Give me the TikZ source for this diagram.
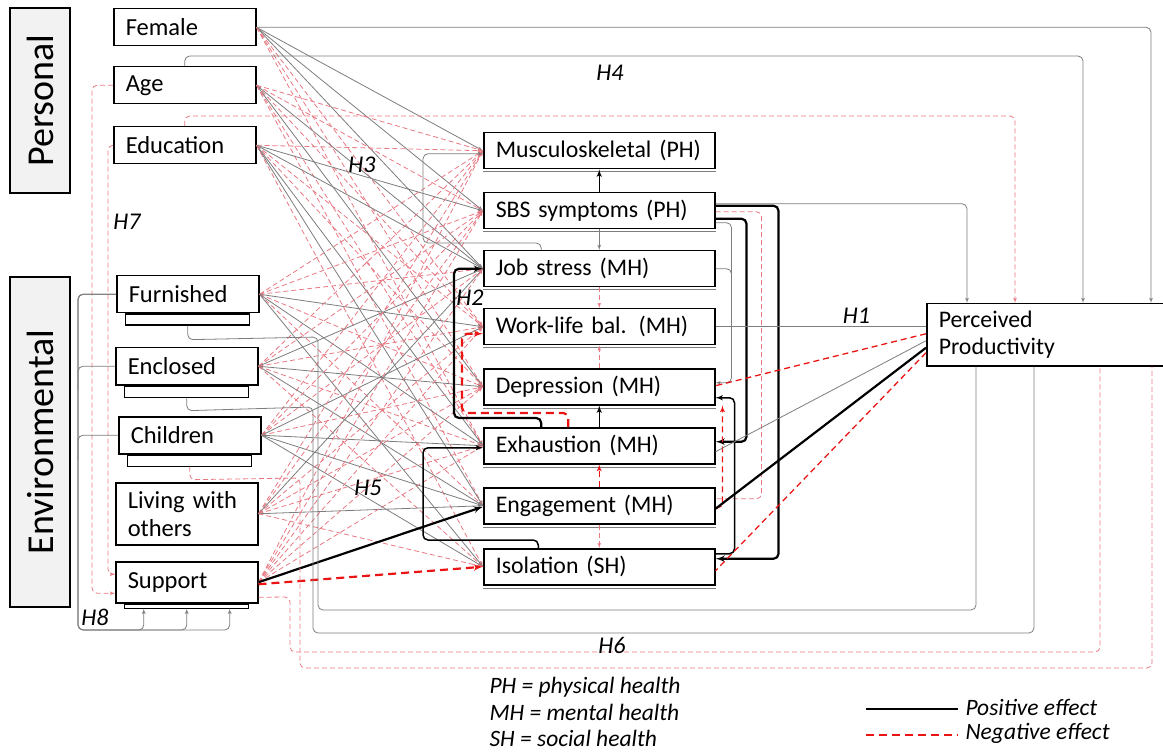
\documentclass[tikz,border=0pt]{standalone}
\usepackage{fontspec}
\setmainfont{Carlito}
\usepackage{tikz}
\usetikzlibrary{arrows, positioning, calc}
\definecolor{lngray}{RGB}{125,125,125}
\definecolor{lnpink}{RGB}{232,120,130}
\definecolor{lnred}{RGB}{235,20,20}
\definecolor{boxgray}{RGB}{242,242,242}

\begin{document}
\begin{tikzpicture}[
    x=1pt, y=-1pt,
    every node/.style={font=\fontsize{24.5}{28}\selectfont},
    grpbox/.style={rectangle, draw, line width=1.6pt, fill=boxgray, minimum height=60pt, rotate=90, font=\fontsize{38}{40}\selectfont},
    varbox/.style={rectangle, draw, line width=1.5pt, fill=white, anchor=north west, minimum height=37pt, text width=118pt, inner xsep=12pt, align=left},
    healthbox/.style={varbox, text width=207pt, inner xsep=12pt, minimum height=36pt, font=\fontsize{23.8}{27}\selectfont},
    stack/.style={rectangle, draw, line width=1.2pt, minimum width=124pt, minimum height=11pt, inner sep=0pt},
    grayln/.style={lngray, line width=0.8pt, rounded corners=5pt, -latex'},
    pinkln/.style={lnpink, line width=0.8pt, dash pattern=on 5pt off 3pt, rounded corners=5pt, -latex'},
    posln/.style={black, line width=2.2pt, rounded corners=5pt, -latex'},
    blkln/.style={black, line width=1.5pt, rounded corners=5pt, -latex'},
    negln/.style={lnred, line width=2.2pt, dash pattern=on 8pt off 5pt, rounded corners=5pt, -latex'},
    redln/.style={lnred, line width=1.3pt, dash pattern=on 6pt off 4pt, rounded corners=5pt},
    hyp/.style={text=black, font=\fontsize{24}{26}\selectfont\itshape},
    legtxt/.style={font=\fontsize{23.5}{25}\selectfont\itshape}
]
    \useasboundingbox (0,0) rectangle (1163,754);

    % group labels
    \node [grpbox, minimum width=185pt] (Personal) at (40,100.5) {Personal};
    \node [grpbox, minimum width=330pt] (Environmental) at (40,442) {Environmental};

    % personal and environmental factors
    \node [varbox] (Female) at (113,8) {Female};
    \node [varbox] (Age) at (113,66) {Age};
    \node [varbox] (Education) at (113,126) {Education};
    \node [varbox] (Furnished) at (116,275) {Furnished};
    \node [varbox] (Enclosed) at (115,347) {Enclosed};
    \node [varbox] (Children) at (118,416) {Children};
    \node [varbox, minimum height=62pt] (Living) at (115,482) {Living with\\others};
    \node [varbox, minimum height=41pt] (Support) at (115,561) {Support};
    \node [stack, below=0pt of Furnished] (FurnishedS) {};
    \node [stack, below=0pt of Enclosed] (EnclosedS) {};
    \node [stack, below=0pt of Children] (ChildrenS) {};
    \node [stack, minimum height=4pt, below=0pt of Support] (SupportS) {};

    % health outcomes
    \node [healthbox] (Musc) at (483,132) {Musculoskeletal (PH)};
    \node [healthbox] (SBS) at (483,192) {SBS symptoms (PH)};
    \node [healthbox] (JobStress) at (483,250) {Job stress (MH)};
    \node [healthbox] (WorkLife) at (483,308) {Work-life bal. (MH)};
    \node [healthbox] (Depression) at (483,368) {Depression (MH)};
    \node [healthbox] (Exhaustion) at (483,427) {Exhaustion (MH)};
    \node [healthbox] (Engagement) at (483,487) {Engagement (MH)};
    \node [healthbox] (Isolation) at (483,548) {Isolation (SH)};
    \foreach \n in {Musc,SBS,JobStress,WorkLife,Depression,Exhaustion,Engagement,Isolation}
        \draw [lngray, line width=1pt] ([yshift=-2.5]\n.south west) -- ([yshift=-2.5]\n.south east);

    % productivity
    \node [healthbox, text width=221pt, minimum height=62pt] (Prod) at (926,303) {Perceived\\Productivity};

    % factors -> health
    \foreach \a/\b/\s in {
        Female/Musc/grayln, Female/SBS/grayln, Female/JobStress/grayln, Female/WorkLife/pinkln, Female/Depression/pinkln, Female/Exhaustion/pinkln,
        Age/Musc/pinkln, Age/SBS/pinkln, Age/JobStress/grayln, Age/WorkLife/pinkln, Age/Depression/grayln, Age/Exhaustion/pinkln, Age/Engagement/pinkln,
        Education/Musc/pinkln, Education/SBS/grayln, Education/JobStress/grayln, Education/WorkLife/pinkln, Education/Depression/pinkln, Education/Exhaustion/grayln, Education/Engagement/grayln, Education/Isolation/pinkln,
        Furnished/Musc/pinkln, Furnished/SBS/pinkln, Furnished/JobStress/pinkln, Furnished/WorkLife/grayln, Furnished/Depression/pinkln, Furnished/Exhaustion/grayln, Furnished/Engagement/pinkln, Furnished/Isolation/grayln,
        Enclosed/Musc/pinkln, Enclosed/SBS/pinkln, Enclosed/JobStress/grayln, Enclosed/WorkLife/pinkln, Enclosed/Depression/grayln, Enclosed/Exhaustion/pinkln, Enclosed/Engagement/grayln, Enclosed/Isolation/pinkln,
        Children/Musc/pinkln, Children/SBS/pinkln, Children/JobStress/pinkln, Children/WorkLife/grayln, Children/Depression/pinkln, Children/Exhaustion/grayln, Children/Engagement/grayln, Children/Isolation/grayln,
        Living/Musc/pinkln, Living/SBS/pinkln, Living/JobStress/grayln, Living/WorkLife/pinkln, Living/Depression/pinkln, Living/Exhaustion/pinkln, Living/Engagement/grayln, Living/Isolation/pinkln,
        Support/Musc/pinkln, Support/SBS/pinkln, Support/JobStress/pinkln, Support/WorkLife/pinkln, Support/Depression/pinkln, Support/Exhaustion/pinkln}
        \draw [\s] (\a.east) -- (\b.west);
    \draw [posln] (Support.east) -- ([yshift=-1]Engagement.west);
    \draw [negln] ([yshift=-2]Support.east) -- (Isolation.west);

    % between health outcomes
    \draw [blkln] (SBS.north) -- (Musc.south);
    \draw [grayln] (SBS.south) -- (JobStress.north);
    \draw [pinkln] (JobStress.south) -- (WorkLife.north);
    \draw [pinkln] (Depression.north) -- (WorkLife.south);
    \draw [blkln] (Exhaustion.north) -- (Depression.south);
    \draw [redln, -latex'] (Engagement.north) -- (Exhaustion.south);
    \draw [pinkln] (Engagement.south) -- (Isolation.north);
    \draw [posln] ([xshift=-58]Exhaustion.north) -- ++(0,-9) -| ([xshift=-29]JobStress.west) -- (JobStress.west);
    \draw [negln] ([xshift=-31]Exhaustion.north) -- ++(0,-14) -| ([xshift=-21,yshift=-7]WorkLife.west) -- ([yshift=-7]WorkLife.west);
    \draw [blkln] ([xshift=-61]Isolation.north) -- ++(0,-8) -| ([xshift=-60,yshift=-2]Exhaustion.west) -- ([yshift=-2]Exhaustion.west);
    \draw [grayln] ([xshift=-58]JobStress.north) -- ++(0,-7) -| ([xshift=-60,yshift=-3]Musc.west) -- ([yshift=-3]Musc.west);
    \draw [posln] ([yshift=5]SBS.east) -- ++(63,0) |- ([yshift=8]Isolation.east);
    \draw [posln] ([yshift=-8]SBS.east) -- ++(31,0) |- ([yshift=4]Exhaustion.east);
    \draw [pinkln, -] ([yshift=-1]SBS.east) -- ++(46,0) |- ([yshift=7]Engagement.east);
    \draw [grayln] ([yshift=-12]SBS.east) -- ++(16,0) |- ([yshift=4]Depression.east);
    \draw [grayln, -] (JobStress.east) -| ([xshift=16,yshift=30]Depression.east);
    \draw [blkln] ([yshift=13]Isolation.east) -- ++(19,0) |- ([yshift=-11]Depression.east);
    \draw [redln, -latex'] ([yshift=-2]Engagement.east) -| ([xshift=7]Depression.south east);

    % health <-> productivity
    \draw [grayln, -] (WorkLife.east) -- (WorkLife.east -| Prod.west) node [hyp, pos=0.67, above] {H1};
    \draw [redln] ([yshift=1]Prod.west) -- ([yshift=1]Depression.east);
    \draw [grayln, -] ([yshift=-6]Prod.west) -- ([yshift=-6]Exhaustion.east);
    \draw [posln, -] ([yshift=-13]Prod.west) -- ([yshift=-3]Engagement.east);
    \draw [redln] ([yshift=-18]Prod.west) -- ([yshift=-4]Isolation.east);
    \draw [grayln] ([yshift=7]SBS.east) -| ([xshift=41]Prod.north west);

    % factors -> productivity
    \draw [grayln] (Female.east) -| ([xshift=225]Prod.north west);
    \draw [grayln] (Age.north) -- ++(0,-10) -| ([xshift=157]Prod.north west);
    \draw [pinkln] (Education.north) -- ++(0,-10) -| ([xshift=89]Prod.north west);
    \draw [grayln, -] (FurnishedS.south) -- ++(0,14) -- (318,337) -- (318,610) -| ([xshift=50]Prod.south west);
    \draw [grayln, -] (EnclosedS.south) -- ++(0,13) -- (313,407) -- (313,633) -| ([xshift=108]Prod.south west);
    \draw [pinkln, -] (ChildrenS.south) -- ++(0,13) -- (300,478) -- (300,668) -| ([xshift=226]Prod.south west);
    \draw [pinkln, -] ([yshift=-15]Support.east) -- (290,597) -- (290,652) -| ([xshift=174]Prod.south west);

    % factors -> support
    \draw [pinkln] (Age.west) -- ++(-21,0) |- ([yshift=-11]Support.west);
    \draw [pinkln] (Education.west) -- ++(-5,0) |- ([yshift=8]Support.west);
    \foreach \dx in {-43,0,43}
        \draw [grayln] (Furnished.west) -| (78,630) -| ([xshift=\dx]SupportS.south);
    \draw [grayln, -] (Enclosed.west) -| (78,390);
    \draw [grayln, -] (Children.west) -| (78,460);

    % hypotheses
    \node [hyp] (H2) at (470,298) {H2};
    \node [hyp] (H3) at (362,165) {H3};
    \node [hyp] (H4) at (610,73) {H4};
    \node [hyp] (H5) at (368,488) {H5};
    \node [hyp] (H6) at (612,645) {H6};
    \node [hyp] (H7) at (127,222) {H7};
    \node [hyp] (H8) at (95,617) {H8};

    % legend
    \node [legtxt, anchor=north west] (PHnote) at (486,674) {PH = physical health};
    \node [legtxt, anchor=north west] (MHnote) at (486,701) {MH = mental health};
    \node [legtxt, anchor=north west] (SHnote) at (486,727) {SH = social health};
    \node [legtxt, anchor=west] (PosTxt) at (962,707) {Positive effect};
    \node [legtxt, anchor=west] (NegTxt) at (962,733) {Negative effect};
    \coordinate (PosEnd) at (866,709);
    \coordinate (NegEnd) at (866,735);
    \draw [black, line width=2pt] (PosEnd) -- ([xshift=-4]PosEnd -| PosTxt.west);
    \draw [lnred, line width=2pt, dash pattern=on 8pt off 5pt] (NegEnd) -- ([xshift=-4]NegEnd -| NegTxt.west);
\end{tikzpicture}
\end{document}
